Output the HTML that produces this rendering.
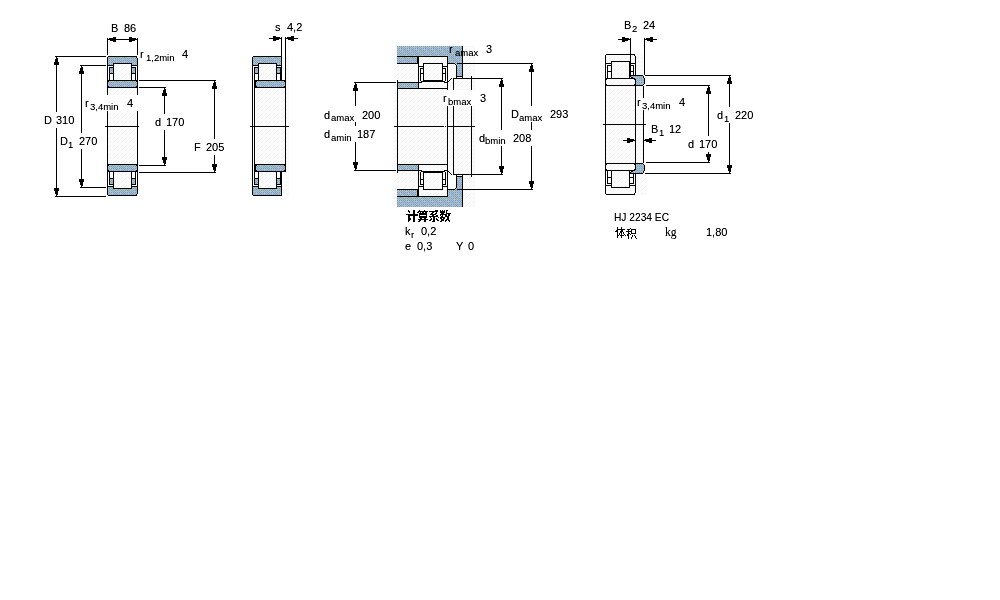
<!DOCTYPE html>
<html><head><meta charset="utf-8"><style>
html,body{margin:0;padding:0;background:#fff;width:1000px;height:600px;overflow:hidden}
svg{display:block}
svg{font-family:"Liberation Sans",sans-serif;font-size:11px}
</style></head><body>
<svg width="1000" height="600" viewBox="0 0 1000 600">
<defs>
<pattern id="dth" x="0" y="5" width="8" height="8" patternUnits="userSpaceOnUse"><rect x="0" y="0" width="1" height="1" fill="#968ccd"/><rect x="1" y="0" width="1" height="1" fill="#96cdc8"/><rect x="2" y="0" width="1" height="1" fill="#afa5a0"/><rect x="3" y="0" width="1" height="1" fill="#96cdc8"/><rect x="4" y="0" width="1" height="1" fill="#96cdc8"/><rect x="5" y="0" width="1" height="1" fill="#96cdc8"/><rect x="6" y="0" width="1" height="1" fill="#afa5a0"/><rect x="7" y="0" width="1" height="1" fill="#96cdc8"/><rect x="0" y="1" width="1" height="1" fill="#96cdc8"/><rect x="1" y="1" width="1" height="1" fill="#968ccd"/><rect x="2" y="1" width="1" height="1" fill="#96cdc8"/><rect x="3" y="1" width="1" height="1" fill="#968ccd"/><rect x="4" y="1" width="1" height="1" fill="#96cdc8"/><rect x="5" y="1" width="1" height="1" fill="#968ccd"/><rect x="6" y="1" width="1" height="1" fill="#96cdc8"/><rect x="7" y="1" width="1" height="1" fill="#968ccd"/><rect x="0" y="2" width="1" height="1" fill="#afa5a0"/><rect x="1" y="2" width="1" height="1" fill="#96cdc8"/><rect x="2" y="2" width="1" height="1" fill="#afa5a0"/><rect x="3" y="2" width="1" height="1" fill="#96cdc8"/><rect x="4" y="2" width="1" height="1" fill="#afa5a0"/><rect x="5" y="2" width="1" height="1" fill="#96cdc8"/><rect x="6" y="2" width="1" height="1" fill="#96cdc8"/><rect x="7" y="2" width="1" height="1" fill="#96cdc8"/><rect x="0" y="3" width="1" height="1" fill="#91c8fc"/><rect x="1" y="3" width="1" height="1" fill="#968ccd"/><rect x="2" y="3" width="1" height="1" fill="#96cdc8"/><rect x="3" y="3" width="1" height="1" fill="#968ccd"/><rect x="4" y="3" width="1" height="1" fill="#91c8fc"/><rect x="5" y="3" width="1" height="1" fill="#968ccd"/><rect x="6" y="3" width="1" height="1" fill="#96cdc8"/><rect x="7" y="3" width="1" height="1" fill="#968ccd"/><rect x="0" y="4" width="1" height="1" fill="#96cdc8"/><rect x="1" y="4" width="1" height="1" fill="#96cdc8"/><rect x="2" y="4" width="1" height="1" fill="#afa5a0"/><rect x="3" y="4" width="1" height="1" fill="#96cdc8"/><rect x="4" y="4" width="1" height="1" fill="#968ccd"/><rect x="5" y="4" width="1" height="1" fill="#96cdc8"/><rect x="6" y="4" width="1" height="1" fill="#afa5a0"/><rect x="7" y="4" width="1" height="1" fill="#96cdc8"/><rect x="0" y="5" width="1" height="1" fill="#96cdc8"/><rect x="1" y="5" width="1" height="1" fill="#968ccd"/><rect x="2" y="5" width="1" height="1" fill="#91c8fc"/><rect x="3" y="5" width="1" height="1" fill="#968ccd"/><rect x="4" y="5" width="1" height="1" fill="#96cdc8"/><rect x="5" y="5" width="1" height="1" fill="#968ccd"/><rect x="6" y="5" width="1" height="1" fill="#96cdc8"/><rect x="7" y="5" width="1" height="1" fill="#968ccd"/><rect x="0" y="6" width="1" height="1" fill="#afa5a0"/><rect x="1" y="6" width="1" height="1" fill="#96cdc8"/><rect x="2" y="6" width="1" height="1" fill="#96cdc8"/><rect x="3" y="6" width="1" height="1" fill="#96cdc8"/><rect x="4" y="6" width="1" height="1" fill="#afa5a0"/><rect x="5" y="6" width="1" height="1" fill="#96cdc8"/><rect x="6" y="6" width="1" height="1" fill="#afa5a0"/><rect x="7" y="6" width="1" height="1" fill="#96cdc8"/><rect x="0" y="7" width="1" height="1" fill="#91c8fc"/><rect x="1" y="7" width="1" height="1" fill="#968ccd"/><rect x="2" y="7" width="1" height="1" fill="#96cdc8"/><rect x="3" y="7" width="1" height="1" fill="#968ccd"/><rect x="4" y="7" width="1" height="1" fill="#91c8fc"/><rect x="5" y="7" width="1" height="1" fill="#968ccd"/><rect x="6" y="7" width="1" height="1" fill="#96cdc8"/><rect x="7" y="7" width="1" height="1" fill="#968ccd"/></pattern>
<filter id="crisp" x="-10%" y="-30%" width="120%" height="160%"><feComponentTransfer><feFuncA type="linear" slope="1.2" intercept="0"/></feComponentTransfer></filter>
<pattern id="hat" x="0" y="4" width="8" height="8" patternUnits="userSpaceOnUse"><rect width="8" height="8" fill="#fbfbfb"/><rect x="3" y="0" width="1" height="1" fill="#f0f0f0"/><rect x="2" y="1" width="1" height="1" fill="#f0f0f0"/><rect x="6" y="1" width="1" height="1" fill="#f0f0f0"/><rect x="1" y="2" width="1" height="1" fill="#f0f0f0"/><rect x="5" y="2" width="1" height="1" fill="#f0f0f0"/><rect x="2" y="5" width="1" height="1" fill="#f0f0f0"/><rect x="6" y="5" width="1" height="1" fill="#f0f0f0"/><rect x="1" y="6" width="1" height="1" fill="#f0f0f0"/><rect x="5" y="6" width="1" height="1" fill="#f0f0f0"/><rect x="4" y="7" width="1" height="1" fill="#f0f0f0"/></pattern>
</defs>
<rect width="1000" height="600" fill="#fff"/>
<g shape-rendering="crispEdges">
<path fill="url(#hat)" d="M114 64h17v16h-17zM114 172h17v16h-17zM108 88h29v38h-29zM108 126h29v38h-29zM259 64h17v16h-17zM259 172h17v16h-17zM256 88h29v38h-29zM256 126h29v38h-29zM286 56h3v141h-3zM394 46h81v161h-81zM606 55h29v6h-29zM606 188h29v6h-29zM606 61h5v2h-5zM606 186h5v2h-5zM630 61h5v2h-5zM630 186h5v2h-5zM608 66h3v5h-3zM608 178h3v5h-3zM630 66h3v5h-3zM630 178h3v5h-3zM612 62h17v16h-17zM612 171h17v16h-17zM607 79h27v1h-27zM607 169h27v1h-27zM606 80h29v4h-29zM606 165h29v4h-29zM607 84h27v1h-27zM607 164h27v1h-27zM606 86h29v38h-29zM606 125h29v38h-29zM636 86h7v38h-7zM636 125h7v38h-7zM637 54h6v20h-6zM637 174h10v21h-10z"/>
<path fill="url(#dth)" d="M108 57h29v6h-29zM108 189h29v6h-29zM108 63h5v2h-5zM108 187h5v2h-5zM132 63h5v2h-5zM132 187h5v2h-5zM110 68h3v5h-3zM110 179h3v5h-3zM132 68h3v5h-3zM132 179h3v5h-3zM109 81h27v1h-27zM109 170h27v1h-27zM108 82h29v4h-29zM108 166h29v4h-29zM109 86h27v1h-27zM109 165h27v1h-27zM253 57h28v6h-28zM253 189h28v6h-28zM253 63h5v2h-5zM253 187h5v2h-5zM277 63h4v2h-4zM277 187h4v2h-4zM255 68h3v5h-3zM255 179h3v5h-3zM277 68h3v5h-3zM277 179h3v5h-3zM257 81h27v1h-27zM257 170h27v1h-27zM256 82h29v4h-29zM256 166h29v4h-29zM257 86h27v1h-27zM257 165h27v1h-27zM397 46h65v10h-65zM397 197h65v10h-65zM397 57h20v6h-20zM397 190h20v6h-20zM448 56h14v7h-14zM448 190h14v7h-14zM457 63h5v13h-5zM457 177h5v13h-5zM455 63h2v1h-2zM455 189h2v1h-2zM456 64h1v1h-1zM456 188h1v1h-1zM398 83h20v5h-20zM398 165h20v5h-20z"/>
<path fill="#fff" d="M253 66h1v14h-1zM253 172h1v14h-1zM447 64h9v14h-9zM447 175h9v14h-9z"/>
<path fill="#000" d="M108 56h29v1h-29zM108 195h29v1h-29zM113 63h19v1h-19zM113 188h19v1h-19zM107 65h7v1h-7zM107 186h7v1h-7zM131 65h7v1h-7zM131 186h7v1h-7zM107 57h1v24h-1zM107 171h1v24h-1zM137 58h1v23h-1zM137 171h1v23h-1zM136 57h1v1h-1zM136 194h1v1h-1zM109 67h1v14h-1zM109 171h1v14h-1zM135 67h1v14h-1zM135 171h1v14h-1zM109 67h5v1h-5zM109 184h5v1h-5zM131 67h5v1h-5zM131 184h5v1h-5zM109 73h5v1h-5zM109 178h5v1h-5zM131 73h5v1h-5zM131 178h5v1h-5zM113 63h1v18h-1zM113 171h1v18h-1zM131 63h1v18h-1zM131 171h1v18h-1zM107 80h31v1h-31zM107 171h31v1h-31zM108 81h1v1h-1zM108 170h1v1h-1zM136 81h1v1h-1zM136 170h1v1h-1zM108 86h1v1h-1zM108 165h1v1h-1zM136 86h1v1h-1zM136 165h1v1h-1zM107 80h1v8h-1zM107 164h1v8h-1zM137 80h1v8h-1zM137 164h1v8h-1zM107 87h31v1h-31zM107 164h31v1h-31zM107 88h1v39h-1zM107 125h1v39h-1zM137 88h1v39h-1zM137 125h1v39h-1zM55 56h51v1h-51zM55 196h51v1h-51zM80 65h26v1h-26zM80 187h26v1h-26zM139 80h77v1h-77zM139 172h77v1h-77zM139 87h27v1h-27zM139 165h27v1h-27zM105 126h34v1h-34zM107 38h1v17h-1zM137 38h1v17h-1zM108 39h29v1h-29zM108 39h1v1h-1zM109 38h1v2h-1zM110 38h3v3h-3zM113 37h3v5h-3zM136 39h1v1h-1zM135 38h1v2h-1zM132 38h3v3h-3zM129 37h3v5h-3zM56 57h1v139h-1zM56 57h1v1h-1zM56 58h2v1h-2zM55 59h3v3h-3zM54 62h5v3h-5zM56 195h1v1h-1zM56 194h2v1h-2zM55 191h3v3h-3zM54 188h5v3h-5zM81 66h1v121h-1zM81 66h1v1h-1zM81 67h2v1h-2zM80 68h3v3h-3zM79 71h5v3h-5zM81 186h1v1h-1zM81 185h2v1h-2zM80 182h3v3h-3zM79 179h5v3h-5zM164 88h1v77h-1zM164 88h1v1h-1zM164 89h2v1h-2zM163 90h3v3h-3zM162 93h5v3h-5zM164 164h1v1h-1zM164 163h2v1h-2zM163 160h3v3h-3zM162 157h5v3h-5zM214 81h1v91h-1zM214 81h1v1h-1zM214 82h2v1h-2zM213 83h3v3h-3zM212 86h5v3h-5zM214 171h1v1h-1zM214 170h2v1h-2zM213 167h3v3h-3zM212 164h5v3h-5zM253 56h28v1h-28zM253 195h28v1h-28zM258 63h19v1h-19zM258 188h19v1h-19zM252 65h7v1h-7zM252 186h7v1h-7zM276 65h6v1h-6zM276 186h6v1h-6zM252 57h1v24h-1zM252 171h1v24h-1zM281 56h1v25h-1zM281 171h1v25h-1zM254 67h1v14h-1zM254 171h1v14h-1zM280 67h1v14h-1zM280 171h1v14h-1zM254 67h5v1h-5zM254 184h5v1h-5zM276 67h5v1h-5zM276 184h5v1h-5zM254 73h5v1h-5zM254 178h5v1h-5zM276 73h5v1h-5zM276 178h5v1h-5zM258 63h1v18h-1zM258 171h1v18h-1zM276 63h1v18h-1zM276 171h1v18h-1zM255 80h31v1h-31zM255 171h31v1h-31zM256 81h1v1h-1zM256 170h1v1h-1zM284 81h1v1h-1zM284 170h1v1h-1zM256 86h1v1h-1zM256 165h1v1h-1zM284 86h1v1h-1zM284 165h1v1h-1zM255 80h1v8h-1zM255 164h1v8h-1zM285 80h1v8h-1zM285 164h1v8h-1zM255 87h31v1h-31zM255 164h31v1h-31zM252 80h1v47h-1zM252 125h1v47h-1zM254 80h1v47h-1zM254 125h1v47h-1zM285 88h1v39h-1zM285 125h1v39h-1zM250 126h39v1h-39zM281 37h1v19h-1zM285 37h1v43h-1zM269 38h12v1h-12zM280 38h1v1h-1zM279 37h1v2h-1zM276 37h3v3h-3zM273 36h3v5h-3zM286 38h12v1h-12zM286 38h1v1h-1zM287 37h1v2h-1zM288 37h3v3h-3zM291 36h3v5h-3zM397 56h51v1h-51zM397 196h51v1h-51zM397 63h21v1h-21zM397 189h21v1h-21zM447 63h8v1h-8zM447 189h8v1h-8zM455 64h1v1h-1zM455 188h1v1h-1zM457 63h76v1h-76zM457 189h76v1h-76zM417 57h1v6h-1zM417 190h1v6h-1zM462 46h1v33h-1zM462 174h1v33h-1zM456 65h1v13h-1zM456 175h1v13h-1zM453 78h50v1h-50zM453 174h50v1h-50zM453 78h1v49h-1zM453 126h1v49h-1zM471 76h1v51h-1zM471 126h1v51h-1zM447 56h1v71h-1zM447 126h1v71h-1zM418 56h1v33h-1zM418 164h1v33h-1zM397 80h1v47h-1zM397 126h1v47h-1zM354 82h42v1h-42zM354 170h42v1h-42zM397 82h22v1h-22zM397 170h22v1h-22zM397 88h51v1h-51zM397 164h51v1h-51zM423 63h20v1h-20zM423 189h20v1h-20zM423 63h1v18h-1zM423 172h1v18h-1zM442 63h1v18h-1zM442 172h1v18h-1zM418 66h6v1h-6zM418 186h6v1h-6zM442 66h6v1h-6zM442 186h6v1h-6zM420 68h1v13h-1zM420 172h1v13h-1zM445 68h1v13h-1zM445 172h1v13h-1zM420 68h4v1h-4zM420 184h4v1h-4zM442 68h4v1h-4zM442 184h4v1h-4zM420 73h4v1h-4zM420 179h4v1h-4zM442 73h4v1h-4zM442 179h4v1h-4zM424 80h18v1h-18zM424 172h18v1h-18zM421 81h24v1h-24zM421 171h24v1h-24zM419 82h3v1h-3zM419 170h3v1h-3zM444 82h3v1h-3zM444 170h3v1h-3zM423 79h1v1h-1zM423 173h1v1h-1zM442 79h1v1h-1zM442 173h1v1h-1zM457 76h5v1h-5zM457 176h5v1h-5zM448 81h1v1h-1zM448 171h1v1h-1zM449 80h1v1h-1zM449 172h1v1h-1zM450 79h1v1h-1zM450 173h1v1h-1zM451 78h1v1h-1zM451 174h1v1h-1zM394 126h50v1h-50zM445 126h1v1h-1zM447 126h28v1h-28zM355 83h1v87h-1zM355 83h1v1h-1zM355 84h2v1h-2zM354 85h3v3h-3zM353 88h5v3h-5zM355 169h1v1h-1zM355 168h2v1h-2zM354 165h3v3h-3zM353 162h5v3h-5zM531 64h1v125h-1zM531 64h1v1h-1zM531 65h2v1h-2zM530 66h3v3h-3zM529 69h5v3h-5zM531 188h1v1h-1zM531 187h2v1h-2zM530 184h3v3h-3zM529 181h5v3h-5zM501 79h1v95h-1zM501 79h1v1h-1zM501 80h2v1h-2zM500 81h3v3h-3zM499 84h5v3h-5zM501 173h1v1h-1zM501 172h2v1h-2zM500 169h3v3h-3zM499 166h5v3h-5zM606 54h29v1h-29zM606 194h29v1h-29zM611 61h19v1h-19zM611 187h19v1h-19zM605 63h7v1h-7zM605 185h7v1h-7zM629 63h7v1h-7zM629 185h7v1h-7zM605 55h1v24h-1zM605 170h1v24h-1zM635 56h1v23h-1zM635 170h1v23h-1zM634 55h1v1h-1zM634 193h1v1h-1zM607 65h1v14h-1zM607 170h1v14h-1zM633 65h1v14h-1zM633 170h1v14h-1zM607 65h5v1h-5zM607 183h5v1h-5zM629 65h5v1h-5zM629 183h5v1h-5zM607 71h5v1h-5zM607 177h5v1h-5zM629 71h5v1h-5zM629 177h5v1h-5zM611 61h1v18h-1zM611 170h1v18h-1zM629 61h1v18h-1zM629 170h1v18h-1zM605 78h31v1h-31zM605 170h31v1h-31zM606 79h1v1h-1zM606 169h1v1h-1zM634 79h1v1h-1zM634 169h1v1h-1zM606 84h1v1h-1zM606 164h1v1h-1zM634 84h1v1h-1zM634 164h1v1h-1zM605 78h1v8h-1zM605 163h1v8h-1zM635 78h1v8h-1zM635 163h1v8h-1zM605 85h31v1h-31zM605 163h31v1h-31zM605 86h1v39h-1zM605 124h1v39h-1zM635 86h1v39h-1zM635 124h1v39h-1zM643 86h1v39h-1zM643 124h1v39h-1zM645 75h86v1h-86zM645 173h86v1h-86zM603 124h43v1h-43zM630 38h1v37h-1zM644 38h1v37h-1zM618 39h12v1h-12zM629 39h1v1h-1zM628 38h1v2h-1zM625 38h3v3h-3zM622 37h3v5h-3zM645 39h12v1h-12zM645 39h1v1h-1zM646 38h1v2h-1zM647 38h3v3h-3zM650 37h3v5h-3zM623 140h12v1h-12zM634 140h1v1h-1zM633 139h1v2h-1zM630 139h3v3h-3zM627 138h3v5h-3zM644 140h12v1h-12zM644 140h1v1h-1zM645 139h1v2h-1zM646 139h3v3h-3zM649 138h3v5h-3zM729 76h1v97h-1zM729 76h1v1h-1zM729 77h2v1h-2zM728 78h3v3h-3zM727 81h5v3h-5zM729 172h1v1h-1zM729 171h2v1h-2zM728 168h3v3h-3zM727 165h5v3h-5zM646 85h64v1h-64zM646 162h64v1h-64zM708 86h1v76h-1zM708 86h1v1h-1zM708 87h2v1h-2zM707 88h3v3h-3zM706 91h5v3h-5zM708 161h1v1h-1zM708 160h2v1h-2zM707 157h3v3h-3zM706 154h5v3h-5z"/>
<path fill="url(#dth)" d="M631 76h12v1h-12zM631 172h12v1h-12zM633 77h10v1h-10zM633 171h10v1h-10zM635 78h9v1h-9zM635 170h9v1h-9zM636 79h8v5h-8zM636 165h8v5h-8zM636 84h7v1h-7zM636 164h7v1h-7z"/>
<path fill="#000" d="M630 75h13v1h-13zM630 173h13v1h-13zM629 76h2v1h-2zM629 172h2v1h-2zM631 77h2v1h-2zM631 171h2v1h-2zM632 78h3v1h-3zM632 170h3v1h-3zM634 79h2v1h-2zM634 169h2v1h-2zM635 80h1v6h-1zM635 163h1v6h-1zM643 76h1v2h-1zM643 171h1v2h-1zM644 78h1v6h-1zM644 165h1v6h-1zM643 84h1v1h-1zM643 164h1v1h-1zM636 85h7v1h-7zM636 163h7v1h-7z"/>
<path fill="#fff" d="M43 112h35v16h-35zM59 133h40v16h-40zM84 95h56v16h-56zM152 114h35v16h-35zM192 139h34v16h-34zM444 90h32v16h-32zM322 106h60v16h-60zM322 126h60v16h-60zM510 106h61v16h-61zM477 130h57v16h-57zM636 98h51v12h-51zM715 107h40v16h-40zM686 136h34v16h-34z"/>
<path fill="#000" d="M408 210h1v1h-1zM413 210h2v1h-2zM419 210h1v1h-1zM424 210h1v1h-1zM435 210h3v1h-3zM440 210h1v1h-1zM442 210h1v1h-1zM444 210h1v1h-1zM446 210h2v1h-2zM408 211h2v1h-2zM413 211h2v1h-2zM418 211h10v1h-10zM429 211h9v1h-9zM440 211h5v1h-5zM446 211h1v1h-1zM409 212h1v1h-1zM413 212h2v1h-2zM417 212h2v1h-2zM420 212h1v1h-1zM422 212h2v1h-2zM425 212h2v1h-2zM432 212h2v1h-2zM436 212h1v1h-1zM440 212h5v1h-5zM446 212h1v1h-1zM413 213h2v1h-2zM419 213h8v1h-8zM431 213h2v1h-2zM435 213h2v1h-2zM441 213h3v1h-3zM446 213h5v1h-5zM406 214h12v1h-12zM419 214h8v1h-8zM430 214h6v1h-6zM440 214h7v1h-7zM448 214h2v1h-2zM408 215h10v1h-10zM419 215h1v1h-1zM426 215h1v1h-1zM432 215h2v1h-2zM436 215h2v1h-2zM440 215h1v1h-1zM442 215h1v1h-1zM445 215h2v1h-2zM448 215h2v1h-2zM408 216h2v1h-2zM413 216h2v1h-2zM419 216h8v1h-8zM429 216h9v1h-9zM441 216h2v1h-2zM445 216h4v1h-4zM408 217h2v1h-2zM413 217h2v1h-2zM419 217h8v1h-8zM430 217h1v1h-1zM433 217h2v1h-2zM438 217h1v1h-1zM440 217h5v1h-5zM447 217h2v1h-2zM408 218h3v1h-3zM413 218h2v1h-2zM420 218h2v1h-2zM424 218h2v1h-2zM431 218h1v1h-1zM433 218h2v1h-2zM436 218h1v1h-1zM440 218h2v1h-2zM443 218h2v1h-2zM447 218h2v1h-2zM408 219h3v1h-3zM413 219h2v1h-2zM418 219h10v1h-10zM430 219h2v1h-2zM433 219h2v1h-2zM436 219h2v1h-2zM441 219h3v1h-3zM446 219h3v1h-3zM408 220h2v1h-2zM413 220h2v1h-2zM419 220h2v1h-2zM424 220h2v1h-2zM429 220h2v1h-2zM433 220h2v1h-2zM437 220h2v1h-2zM441 220h3v1h-3zM445 220h2v1h-2zM448 220h2v1h-2zM408 221h1v1h-1zM413 221h2v1h-2zM418 221h2v1h-2zM424 221h2v1h-2zM432 221h3v1h-3zM440 221h2v1h-2zM445 221h1v1h-1zM449 221h1v1h-1zM617 227h1v1h-1zM621 227h1v1h-1zM617 228h1v1h-1zM621 228h1v1h-1zM630 228h1v1h-1zM617 229h8v1h-8zM627 229h3v1h-3zM631 229h5v1h-5zM616 230h2v1h-2zM621 230h2v1h-2zM628 230h1v1h-1zM631 230h1v1h-1zM635 230h1v1h-1zM615 231h3v1h-3zM620 231h3v1h-3zM626 231h6v1h-6zM635 231h1v1h-1zM617 232h1v1h-1zM620 232h2v1h-2zM623 232h1v1h-1zM628 232h1v1h-1zM631 232h1v1h-1zM635 232h1v1h-1zM617 233h1v1h-1zM619 233h1v1h-1zM621 233h1v1h-1zM623 233h1v1h-1zM628 233h2v1h-2zM631 233h5v1h-5zM617 234h1v1h-1zM619 234h1v1h-1zM621 234h1v1h-1zM624 234h1v1h-1zM627 234h2v1h-2zM630 234h1v1h-1zM617 235h2v1h-2zM620 235h4v1h-4zM625 235h1v1h-1zM627 235h2v1h-2zM632 235h1v1h-1zM634 235h1v1h-1zM617 236h1v1h-1zM621 236h1v1h-1zM628 236h1v1h-1zM632 236h1v1h-1zM635 236h1v1h-1zM617 237h1v1h-1zM621 237h1v1h-1zM628 237h1v1h-1zM631 237h1v1h-1zM635 237h1v1h-1zM628 238h1v1h-1zM631 238h1v1h-1zM636 238h1v1h-1z"/>
</g>
<g filter="url(#crisp)">
<text x="111" y="32">B</text>
<text x="124" y="32">86</text>
<text x="140" y="58">r</text>
<text x="146" y="61" font-size="9.5">1,2min</text>
<text x="182" y="58">4</text>
<text x="85" y="107">r</text>
<text x="90" y="110" font-size="9.5">3,4min</text>
<text x="127" y="107">4</text>
<text x="44" y="124">D</text>
<text x="56" y="124">310</text>
<text x="60" y="145">D</text>
<text x="68" y="148" font-size="9.5">1</text>
<text x="79" y="145">270</text>
<text x="155" y="126">d</text>
<text x="166" y="126">170</text>
<text x="194" y="151">F</text>
<text x="206" y="151">205</text>
<text x="275" y="31">s</text>
<text x="287" y="31">4,2</text>
<text x="449" y="53">r</text>
<text x="455" y="56" font-size="9.5">amax</text>
<text x="486" y="53">3</text>
<text x="443" y="102">r</text>
<text x="448" y="105" font-size="9.5">bmax</text>
<text x="480" y="102">3</text>
<text x="324" y="119">d</text>
<text x="331" y="121" font-size="9.5">amax</text>
<text x="362" y="119">200</text>
<text x="324" y="138">d</text>
<text x="331" y="141" font-size="9.5">amin</text>
<text x="357" y="138">187</text>
<text x="511" y="118">D</text>
<text x="519" y="121" font-size="9.5">amax</text>
<text x="550" y="118">293</text>
<text x="479" y="142">d</text>
<text x="485" y="144" font-size="9.5">bmin</text>
<text x="513" y="142">208</text>
<text x="405" y="235">k</text>
<text x="411" y="238" font-size="9.5">r</text>
<text x="421" y="235">0,2</text>
<text x="405" y="250">e</text>
<text x="417" y="250">0,3</text>
<text x="456" y="250">Y</text>
<text x="468" y="250">0</text>
<text x="624" y="29">B</text>
<text x="632" y="32" font-size="9.5">2</text>
<text x="643" y="29">24</text>
<text x="637" y="106">r</text>
<text x="642" y="109" font-size="9.5">3,4min</text>
<text x="679" y="106">4</text>
<text x="651" y="133">B</text>
<text x="659" y="136" font-size="9.5">1</text>
<text x="669" y="133">12</text>
<text x="717" y="119">d</text>
<text x="724" y="122" font-size="9.5">1</text>
<text x="735" y="119">220</text>
<text x="688" y="148">d</text>
<text x="699" y="148">170</text>
<text x="614" y="221" textLength="55" lengthAdjust="spacingAndGlyphs">HJ 2234 EC</text>
<text x="665" y="236" font-size="11.5" style="font-family:'Liberation Serif'">kg</text>
<text x="706" y="236">1,80</text>
</g>
</svg>
</body></html>
